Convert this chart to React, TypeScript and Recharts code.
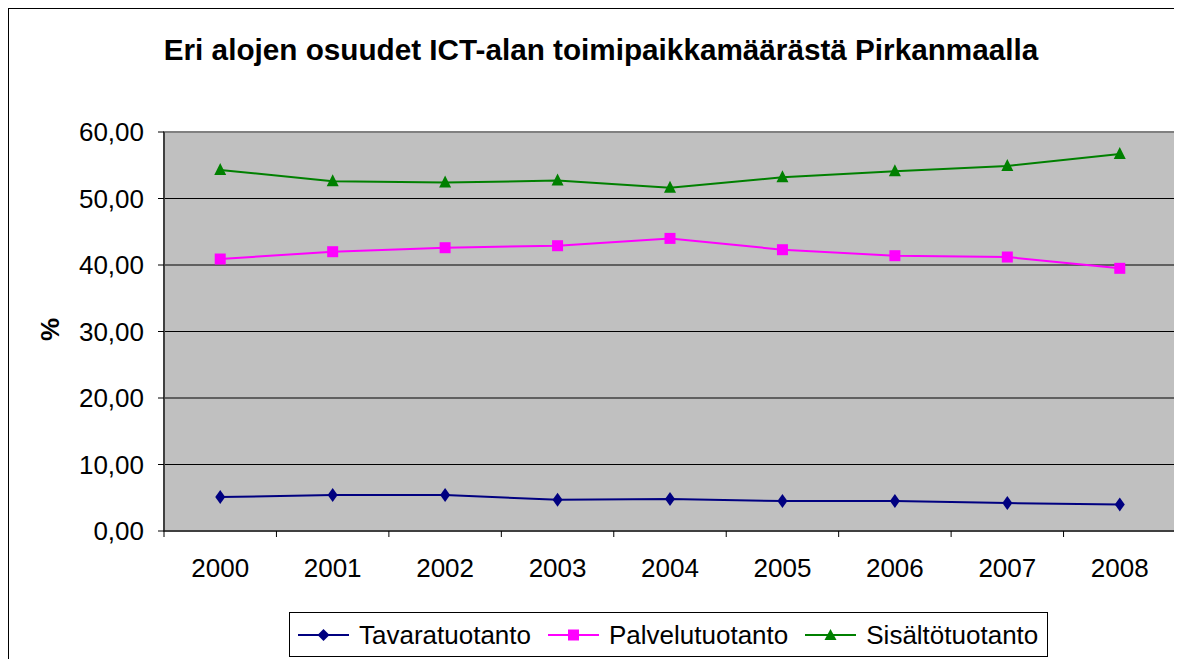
import React from "react";
import {
  LineChart,
  Line,
  XAxis,
  YAxis,
  CartesianGrid,
  ReferenceArea,
} from "recharts";

const years = ["2000", "2001", "2002", "2003", "2004", "2005", "2006", "2007", "2008"];
const tavaratuotanto = [5.1, 5.4, 5.4, 4.7, 4.8, 4.5, 4.5, 4.2, 4.0];
const palvelutuotanto = [40.9, 42.0, 42.6, 42.9, 44.0, 42.3, 41.4, 41.2, 39.5];
const sisaltotuotanto = [54.3, 52.6, 52.4, 52.7, 51.6, 53.2, 54.1, 54.9, 56.7];
const yTicks = [0, 10, 20, 30, 40, 50, 60];

const data = years.map((year, i) => ({
  year,
  tavara: tavaratuotanto[i],
  palvelu: palvelutuotanto[i],
  sisalto: sisaltotuotanto[i],
}));

const FONT = '"Liberation Sans", Arial, sans-serif';
const NAVY = "#000080";
const MAGENTA = "#FF00FF";
const GREEN = "#008000";

const CHART_W = 1170;
const Y_AXIS_W = 155;
const MARGIN = { top: 123, right: 3, left: 0, bottom: 18 };
const BAND = (CHART_W - Y_AXIS_W - MARGIN.left - MARGIN.right) / years.length;

function Diamond({ cx, cy }: { cx?: number; cy?: number }) {
  if (cx == null || cy == null) return null;
  return (
    <path
      d={`M${cx},${cy - 7} L${cx + 5},${cy} L${cx},${cy + 7} L${cx - 5},${cy} Z`}
      fill={NAVY}
    />
  );
}

function Square({ cx, cy }: { cx?: number; cy?: number }) {
  if (cx == null || cy == null) return null;
  return <rect x={cx - 5.5} y={cy - 5.5} width={11} height={11} fill={MAGENTA} />;
}

function Triangle({ cx, cy }: { cx?: number; cy?: number }) {
  if (cx == null || cy == null) return null;
  return (
    <path
      d={`M${cx},${cy - 7} L${cx + 6},${cy + 5} L${cx - 6},${cy + 5} Z`}
      fill={GREEN}
    />
  );
}

function YearTick(props: any) {
  const { x, y, payload, index } = props;
  return (
    <g>
      <line x1={x - BAND / 2} y1={y} x2={x - BAND / 2} y2={y + 6} stroke="#000" />
      {index === years.length - 1 && (
        <line x1={x + BAND / 2} y1={y} x2={x + BAND / 2} y2={y + 6} stroke="#000" />
      )}
      <text
        x={x}
        y={y + 46}
        textAnchor="middle"
        fill="#000"
        style={{ fontFamily: FONT, fontSize: 26 }}
      >
        {payload.value}
      </text>
    </g>
  );
}

function PercentLabel(props: any) {
  const vb = props.viewBox || {};
  const cx = 41;
  const cy = (vb.y ?? 0) + (vb.height ?? 0) / 2 - 2;
  return (
    <text
      x={cx}
      y={cy}
      transform={`rotate(-90, ${cx}, ${cy})`}
      textAnchor="middle"
      dominantBaseline="central"
      fill="#000"
      style={{ fontFamily: FONT, fontSize: 26, fontWeight: "bold" }}
    >
      %
    </text>
  );
}

function LegendItem({
  color,
  label,
  marker,
}: {
  color: string;
  label: string;
  marker: React.ReactNode;
}) {
  return (
    <div style={{ display: "flex", alignItems: "center", marginRight: 17 }}>
      <svg width={51} height={20} style={{ display: "block" }}>
        <line x1={0} y1={10} x2={51} y2={10} stroke={color} strokeWidth={2} />
        {marker}
      </svg>
      <span style={{ marginLeft: 10, fontSize: 26, lineHeight: "30px" }}>{label}</span>
    </div>
  );
}

export default function App() {
  return (
    <div
      style={{
        position: "relative",
        width: 1172,
        height: 660,
        border: "1px solid #000",
        fontFamily: FONT,
        background: "#fff",
        boxSizing: "border-box",
      }}
    >
      <div
        style={{
          position: "absolute",
          left: 0,
          width: 1184,
          top: 24,
          textAlign: "center",
          fontWeight: "bold",
          fontSize: 29.7,
          lineHeight: "34px",
          color: "#000",
        }}
      >
        Eri alojen osuudet ICT-alan toimipaikkamäärästä Pirkanmaalla
      </div>
      <div style={{ position: "absolute", left: 0, top: 0 }}>
        <LineChart width={CHART_W} height={600} data={data} margin={MARGIN}>
          <CartesianGrid
            vertical={false}
            stroke="#000"
            fill="#C0C0C0"
            fillOpacity={1}
          />
          <ReferenceArea y1={0} y2={60} fill="none" stroke="#808080" strokeWidth={2} />
          <XAxis
            dataKey="year"
            scale="band"
            stroke="#000"
            tickLine={false}
            tickSize={0}
            tickMargin={0}
            height={60}
            interval={0}
            tick={<YearTick />}
          />
          <YAxis
            domain={[0, 60]}
            ticks={yTicks}
            width={Y_AXIS_W}
            stroke="#000"
            tickSize={6}
            tickMargin={14}
            tickFormatter={(v: number) => v.toFixed(2).replace(".", ",")}
            tick={{ fill: "#000", fontSize: 26, fontFamily: FONT }}
            label={{ content: <PercentLabel /> }}
          />
          <Line
            dataKey="tavara"
            stroke={NAVY}
            strokeWidth={2}
            dot={<Diamond />}
            activeDot={false}
            isAnimationActive={false}
          />
          <Line
            dataKey="palvelu"
            stroke={MAGENTA}
            strokeWidth={2}
            dot={<Square />}
            activeDot={false}
            isAnimationActive={false}
          />
          <Line
            dataKey="sisalto"
            stroke={GREEN}
            strokeWidth={2}
            dot={<Triangle />}
            activeDot={false}
            isAnimationActive={false}
          />
        </LineChart>
      </div>
      <div
        style={{
          position: "absolute",
          left: 280,
          top: 603,
          width: 759,
          height: 45,
          border: "1px solid #000",
          boxSizing: "border-box",
          display: "flex",
          alignItems: "center",
          paddingLeft: 8,
          background: "#fff",
          color: "#000",
        }}
      >
        <LegendItem
          color={NAVY}
          label="Tavaratuotanto"
          marker={<path d="M25.5,4 L31.5,10 L25.5,16 L19.5,10 Z" fill={NAVY} />}
        />
        <LegendItem
          color={MAGENTA}
          label="Palvelutuotanto"
          marker={<rect x={20} y={4.5} width={11} height={11} fill={MAGENTA} />}
        />
        <LegendItem
          color={GREEN}
          label="Sisältötuotanto"
          marker={<path d="M25.5,4 L31.5,15 L19.5,15 Z" fill={GREEN} />}
        />
      </div>
    </div>
  );
}
